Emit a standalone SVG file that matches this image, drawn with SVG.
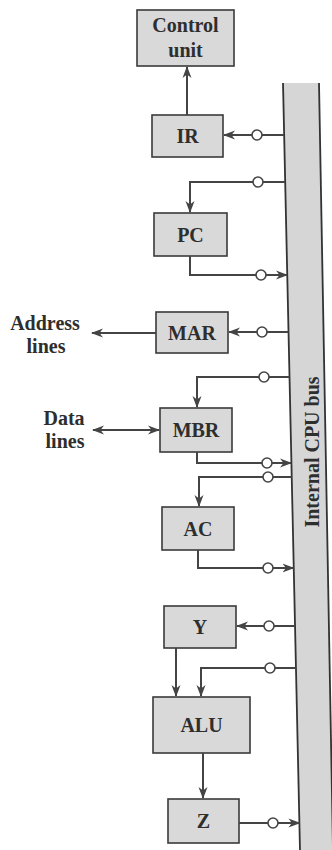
<svg xmlns="http://www.w3.org/2000/svg" width="332" height="850" viewBox="0 0 332 850">
<style>
.box{fill:#d9d9d9;stroke:#3a3a3a;stroke-width:1.6}
.lbl{font-family:'Liberation Serif','DejaVu Serif','Times New Roman',serif;font-weight:bold;font-size:20px;fill:#2e2e2e;text-anchor:middle}
.ln{fill:none;stroke:#444;stroke-width:2}
.ar{fill:none;stroke:#444;stroke-width:2;marker-end:url(#ah)}
.dbl{fill:none;stroke:#444;stroke-width:2;marker-end:url(#ah);marker-start:url(#ah)}
.c{fill:#fff;stroke:#444;stroke-width:1.6}
</style>
<defs>
<marker id="ah" viewBox="0 0 12 10" refX="11" refY="5" markerWidth="12" markerHeight="10" markerUnits="userSpaceOnUse" orient="auto-start-reverse">
<path d="M0,0.5 L12,5 L0,9.5 L3.5,5 Z" fill="#444"/>
</marker>
</defs>
<rect width="332" height="850" fill="#fff"/>
<g font-family="Liberation Serif, DejaVu Serif, serif" font-weight="bold" font-size="20">
<g id="bus">
<polygon points="283,83 319,83 333,850 300,850" fill="#d6d6d6"/>
<line x1="283" y1="83" x2="300" y2="850" stroke="#333" stroke-width="1.8"/>
<line x1="319" y1="83" x2="333" y2="850" stroke="#333" stroke-width="1.8"/>
<text class="lbl" transform="translate(319,452) rotate(-90)" font-family="Liberation Serif, serif">Internal CPU bus</text>
</g>
<g id="control-unit">
<rect class="box" x="137" y="10" width="97" height="56"/>
<text class="lbl" x="185.5" y="32" font-family="Liberation Serif, serif">Control</text>
<text class="lbl" x="185.5" y="57" font-family="Liberation Serif, serif">unit</text>
</g>
<g id="IR">
<rect class="box" x="152" y="115" width="71" height="42"/>
<text class="lbl" x="187.5" y="143" font-family="Liberation Serif, serif">IR</text>
</g>
<g id="PC">
<rect class="box" x="154" y="213" width="73" height="43"/>
<text class="lbl" x="190.5" y="241.5" font-family="Liberation Serif, serif">PC</text>
</g>
<g id="MAR">
<rect class="box" x="156" y="312" width="72" height="41"/>
<text class="lbl" x="192" y="339.5" font-family="Liberation Serif, serif">MAR</text>
</g>
<g id="MBR">
<rect class="box" x="160" y="408" width="72" height="44"/>
<text class="lbl" x="196" y="437" font-family="Liberation Serif, serif">MBR</text>
</g>
<g id="AC">
<rect class="box" x="162" y="507" width="72" height="43"/>
<text class="lbl" x="198" y="535.5" font-family="Liberation Serif, serif">AC</text>
</g>
<g id="Y">
<rect class="box" x="164" y="606" width="72" height="42"/>
<text class="lbl" x="200" y="634" font-family="Liberation Serif, serif">Y</text>
</g>
<g id="ALU">
<rect class="box" x="153" y="697" width="97" height="56"/>
<text class="lbl" x="201.5" y="732" font-family="Liberation Serif, serif">ALU</text>
</g>
<g id="Z">
<rect class="box" x="168" y="799" width="71" height="44"/>
<text class="lbl" x="203.5" y="828" font-family="Liberation Serif, serif">Z</text>
</g>
<g id="address-lines">
<text class="lbl" x="45" y="330" font-family="Liberation Serif, serif">Address</text>
<text class="lbl" x="46" y="353" font-family="Liberation Serif, serif">lines</text>
</g>
<g id="data-lines">
<text class="lbl" x="64" y="425" font-family="Liberation Serif, serif">Data</text>
<text class="lbl" x="65" y="448" font-family="Liberation Serif, serif">lines</text>
</g>
</g>
<g id="connectors">
<path class="ar" d="M187,115 V67"/>
<path class="ln" d="M284.2,135 H262"/><path class="ar" d="M252,135 H224"/><circle class="c" cx="257" cy="135" r="5"/>
<path class="ln" d="M285.2,182 H263"/><path class="ar" d="M253,182 H190 V212"/><circle class="c" cx="258" cy="182" r="5"/>
<path class="ln" d="M190,256 V275 H256"/><path class="ar" d="M266,275 H287"/><circle class="c" cx="261" cy="275" r="5"/>
<path class="ln" d="M288.5,332 H267"/><path class="ar" d="M257,332 H229"/><circle class="c" cx="262" cy="332" r="5"/>
<path class="ar" d="M156,333 H92"/>
<path class="ln" d="M289.5,377 H269"/><path class="ar" d="M259,377 H197 V407"/><circle class="c" cx="264" cy="377" r="5"/>
<path class="dbl" d="M93,430 H159"/>
<path class="ln" d="M197,452 V463 H262"/><path class="ar" d="M272,463 H291"/><circle class="c" cx="267" cy="463" r="5"/>
<path class="ln" d="M291.7,477 H273"/><path class="ar" d="M263,477 H199 V506"/><circle class="c" cx="268" cy="477" r="5"/>
<path class="ln" d="M198,550 V568 H263"/><path class="ar" d="M273,568 H293.5"/><circle class="c" cx="268" cy="568" r="5"/>
<path class="ln" d="M295,626 H274"/><path class="ar" d="M264,626 H237"/><circle class="c" cx="269" cy="626" r="5"/>
<path class="ar" d="M176,648 V696"/>
<path class="ln" d="M296,668 H275"/><path class="ar" d="M265,668 H201 V696"/><circle class="c" cx="270" cy="668" r="5"/>
<path class="ar" d="M203,753 V798"/>
<path class="ln" d="M239,823 H268"/><path class="ar" d="M278,823 H299.4"/><circle class="c" cx="273" cy="823" r="5"/>
</g>
</svg>
